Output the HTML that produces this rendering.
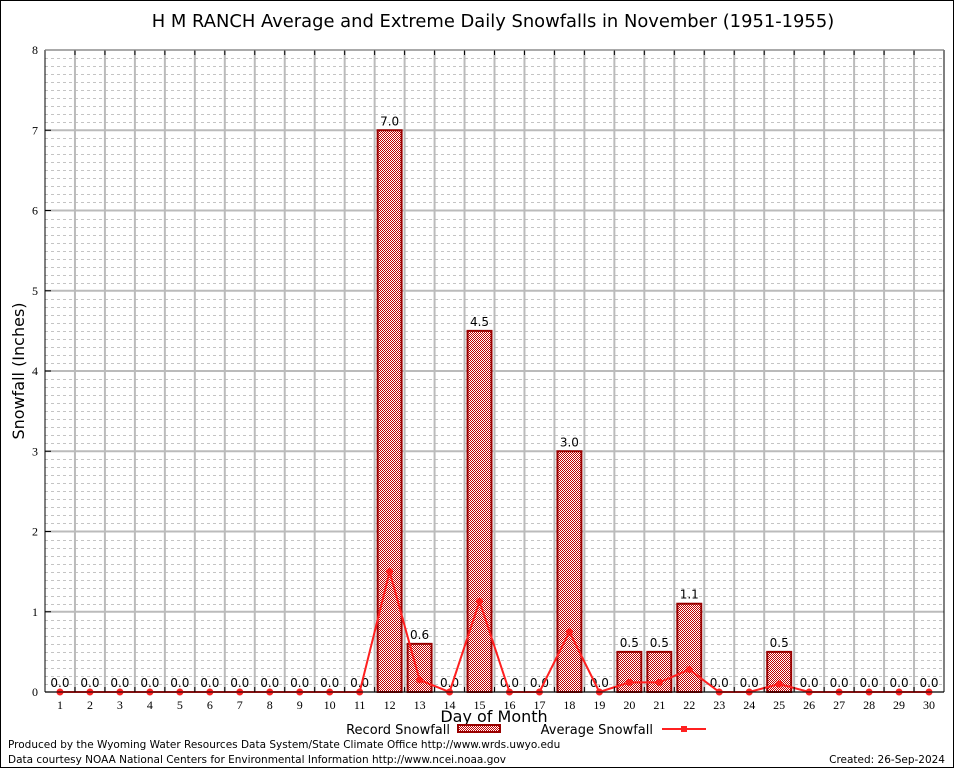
<!DOCTYPE html>
<html><head><meta charset="utf-8"><style>
body{margin:0;background:#fff}
svg{display:block;font-family:"DejaVu Sans","Liberation Sans",sans-serif}
</style></head><body>
<svg id="c" width="954" height="768">
<defs><pattern id="hatch" width="2" height="2" patternUnits="userSpaceOnUse"><rect width="2" height="2" fill="#fff"/><rect width="1" height="1" fill="#c00000"/><rect x="1" y="1" width="1" height="1" fill="#c00000"/></pattern></defs>
<rect x="0.5" y="0.5" width="953" height="767" fill="#fff" stroke="#000"/>
<text x="493" y="27" font-size="17.9" text-anchor="middle" fill="#000">H M RANCH Average and Extreme Daily Snowfalls in November (1951-1955)</text>
<g id="grid"></g><g id="bars"></g><g id="line"></g><g id="axes"></g>
<text transform="translate(24,371) rotate(-90)" font-size="16" text-anchor="middle">Snowfall (Inches)</text>
<text x="494" y="722" font-size="16" text-anchor="middle">Day of Month</text>
<g>
<text x="450" y="734" font-size="13" text-anchor="end">Record Snowfall</text>
<rect x="458" y="725" width="42" height="7" fill="url(#hatch)" stroke="#990000" stroke-width="2"/>
<text x="653" y="734" font-size="13" text-anchor="end">Average Snowfall</text>
<line x1="662" y1="729" x2="706" y2="729" stroke="#ff2020" stroke-width="2"/>
<rect x="681" y="726" width="6" height="6" fill="#ff2020"/>
</g>
<text x="8" y="748" font-size="10.5">Produced by the Wyoming Water Resources Data System/State Climate Office http://www.wrds.uwyo.edu</text>
<text x="8" y="763" font-size="10.5">Data courtesy NOAA National Centers for Environmental Information http://www.ncei.noaa.gov</text>
<text x="945" y="763" font-size="10.5" text-anchor="end">Created: 26-Sep-2024</text>
</svg>
<script>
const days=[1,2,3,4,5,6,7,8,9,10,11,12,13,14,15,16,17,18,19,20,21,22,23,24,25,26,27,28,29,30];
const recordSnow=[0,0,0,0,0,0,0,0,0,0,0,7.0,0.6,0,4.5,0,0,3.0,0,0.5,0.5,1.1,0,0,0.5,0,0,0,0,0];
const avgSnow=[0,0,0,0,0,0,0,0,0,0,0,1.5,0.15,0,1.13,0,0,0.75,0,0.12,0.12,0.28,0,0,0.1,0,0,0,0,0];
const yTicks=[0,1,2,3,4,5,6,7,8];
const L=45,R=944,T=50,B=692,slot=(R-L)/30,yMax=8;
const x=d=>L+slot*(d-0.5);
const y=v=>B-(B-T)*v/yMax;
const NS="http://www.w3.org/2000/svg";
function mk(p,t,a){const e=document.createElementNS(NS,t);for(const k in a)e.setAttribute(k,a[k]);document.getElementById(p).appendChild(e);return e;}
for(let v=0;v<=yMax*10;v++){const val=v/10;if(v%10===0)continue;
 const e=mk('grid','line',{x1:L,x2:R,y1:Math.round(y(val))+0.5,y2:Math.round(y(val))+0.5,stroke:'#c4c4c4','stroke-dasharray':'3,3','stroke-width':1});
 
 }
yTicks.forEach(t=>{const e=mk('grid','line',{x1:L,x2:R,y1:y(t),y2:y(t),stroke:'#bbb','stroke-width':2});
 
 
 const tx=mk('axes','text',{x:L-7,y:y(t)+4,'font-size':12,'text-anchor':'end','font-family':'Liberation Serif,serif'});tx.textContent=t;
 
 
 const tk=mk('axes','line',{x1:L,x2:L+6,y1:y(t),y2:y(t),stroke:'#000'});
 
 });
for(let k=1;k<30;k++){const gx=L+slot*k;
 const e=mk('grid','line',{x1:gx,x2:gx,y1:T,y2:B,stroke:'#bbb','stroke-width':2});
 
 
 const t1=mk('axes','line',{x1:gx,x2:gx,y1:T,y2:T+5,stroke:'#000'});
 
 
 const t2=mk('axes','line',{x1:gx,x2:gx,y1:B-5,y2:B,stroke:'#000'});
 
 }
days.forEach((d,i)=>{const v=recordSnow[i];
 if(v>0){const b=mk('bars','rect',{x:L+slot*(d-1)+3,y:y(v),width:slot-6,height:B-y(v),fill:'url(#hatch)',stroke:'#990000','stroke-width':2});
 
 }
 const lb=mk('bars','text',{x:x(d),y:y(v)-5,'font-size':12,'text-anchor':'middle'});lb.textContent=v.toFixed(1);
 
 
 const dl=mk('axes','text',{x:x(d),y:B+17,'font-size':12,'text-anchor':'middle','font-family':'Liberation Serif,serif'});dl.textContent=d;
 
 });
const pl=mk('line','polyline',{points:days.map((d,i)=>x(d)+','+y(avgSnow[i])).join(' '),fill:'none',stroke:'#ff2020','stroke-width':2});


days.forEach((d,i)=>{const c=mk('line','circle',{cx:x(d),cy:y(avgSnow[i]),r:3.5,fill:'#ff2020'});
 
 });
const f1=mk('axes','line',{x1:L,x2:L,y1:T,y2:B,stroke:'#000'});


const f2=mk('axes','line',{x1:L,x2:R,y1:B,y2:B,stroke:'#000'});


const f3=mk('axes','line',{x1:R,x2:R,y1:T,y2:B,stroke:'#000'});


const f4=mk('axes','line',{x1:L,x2:R,y1:T,y2:T,stroke:'#999'});


</script>
</body></html>
